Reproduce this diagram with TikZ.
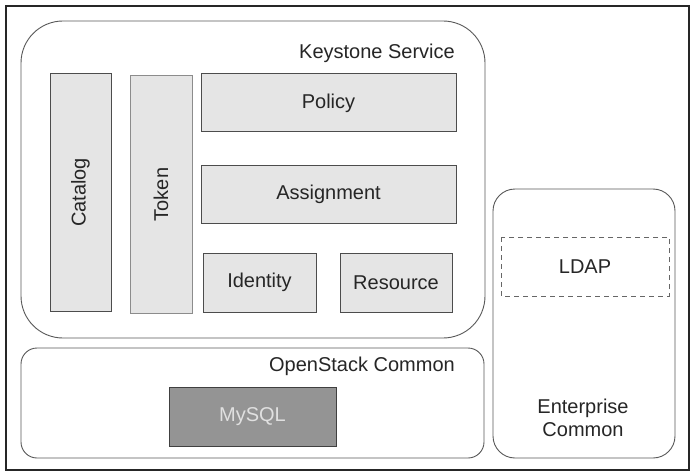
\documentclass[tikz,border=0pt]{standalone}
\usepackage{fontspec}
\setmainfont{Liberation Sans}
\begin{document}
\begin{tikzpicture}[x=1pt,y=-1pt,
  grp/.style={draw=black!65, line width=0.9pt},
  comp/.style={draw=black!70, fill=black!10, line width=1pt},
  lbl/.style={font=\fontsize{20}{23}\selectfont, text=black!85, inner sep=0pt},
]
\useasboundingbox (0,0) rectangle (696,476);
\fill[white] (0,0) rectangle (696,476);
\draw[line width=1.8pt, black!85] (6,6) rectangle (689,470);
% groups
\draw[grp, rounded corners=42pt] (21,21) rectangle (485,338);
\node[lbl, anchor=east] (ks) at (455,53) {Keystone Service};
\draw[grp, rounded corners=16pt] (21,348) rectangle (484,458);
\node[lbl, anchor=east] (oc) at (455,366) {OpenStack Common};
\draw[grp, rounded corners=22pt] (493,189) rectangle (675,458);
\node[lbl, align=center, font=\fontsize{20}{23}\selectfont] (ec) at (583,418) {Enterprise\\Common};
% components
\draw[comp] (50,74) rectangle (111,311);
\node[lbl, rotate=90] (catalog) at (80.5,192.5) {Catalog};
\draw[comp, draw=black!45] (130,76) rectangle (192,313);
\node[lbl, rotate=90] (token) at (161,194.5) {Token};
\draw[comp] (201,74) rectangle (456,132);
\node[lbl] (policy) at (328.5,103) {Policy};
\draw[comp] (201,165) rectangle (456,223);
\node[lbl] (assign) at (328.5,194) {Assignment};
\draw[comp] (203,253) rectangle (316,312);
\node[lbl] (identity) at (259.5,282) {Identity};
\draw[comp] (340,253) rectangle (452,312);
\node[lbl] (resource) at (396,282.5) {Resource};
\draw[draw=black!75, fill=black!42, line width=1pt] (169,387) rectangle (336,446);
\node[lbl, text=black!12] (mysql) at (252.5,416.5) {MySQL};
\draw[draw=black!60, line width=1pt, dash pattern=on 5pt off 4pt] (501,237) rectangle (669,296);
\node[lbl] (ldap) at (585,266.5) {LDAP};
\end{tikzpicture}
\end{document}
